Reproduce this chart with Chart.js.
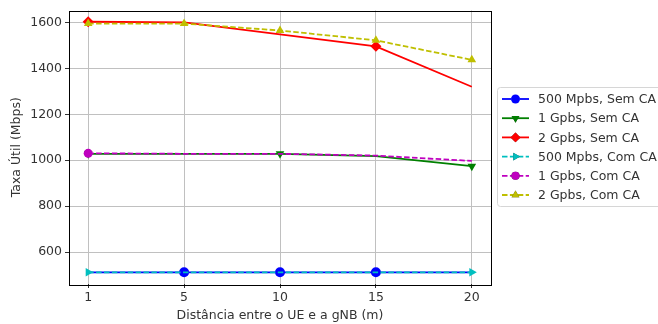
<!DOCTYPE html>
<html>
<head>
<meta charset="utf-8">
<script src="https://cdn.jsdelivr.net/npm/chart.js@4"></script>
<style>
  html, body { margin: 0; padding: 0; background: #fff; }
  #wrap { width: 658px; height: 324px; }
</style>
</head>
<body>
<div id="wrap"><canvas id="c" width="658" height="324"></canvas></div>
<script>
// distances (m)
const distances = ['1', '5', '10', '15', '20'];
const yTicks = [600, 800, 1000, 1200, 1400, 1600];

const labels = ['500 Mpbs, Sem CA', '1 Gpbs, Sem CA', '2 Gpbs, Sem CA',
                '500 Mpbs, Com CA', '1 Gpbs, Com CA', '2 Gpbs, Com CA'];

const sem500 = [512, 512, 512, 512, 512];
const sem1g  = [1028, 1028, 1028, 1018, 974];
const sem2g  = [1603, 1600, 1548, 1496, 1320];
const com500 = [512, 512, 512, 512, 512];
const com1g  = [1030, 1028, 1028, 1020, 997];
const com2g  = [1595, 1595, 1565, 1522, 1437];

// which points carry a marker (matplotlib markevery look)
const marks = [
  [0, 1, 1, 1, 0],
  [1, 0, 1, 0, 1],
  [1, 0, 0, 1, 0],
  [1, 0, 0, 0, 1],
  [1, 0, 0, 0, 0],
  [1, 1, 1, 1, 1],
];

const colors = ['#0000ff', '#008000', '#ff0000', '#00bfbf', '#bf00bf', '#bfbf00'];
const styles = [
  {pointStyle: 'circle', rotation: 0, r: 5, dash: []},
  {pointStyle: 'triangle', rotation: 180, r: 5, dash: []},
  {pointStyle: 'rectRot', rotation: 0, r: 5.5, dash: []},
  {pointStyle: 'triangle', rotation: 90, r: 5, dash: [5.5, 2.4]},
  {pointStyle: 'circle', rotation: 0, r: 4.5, dash: [5.5, 2.4]},
  {pointStyle: 'triangle', rotation: 0, r: 5, dash: [5.5, 2.4]},
];
const series = [sem500, sem1g, sem2g, com500, com1g, com2g];

const FONT = '"DejaVu Sans", sans-serif';
const FS = 12.5;

const datasets = series.map((vals, i) => ({
  label: labels[i],
  data: vals.map((v, j) => ({x: j, y: v})),
  borderColor: colors[i],
  backgroundColor: colors[i],
  borderWidth: 1.8,
  borderDash: styles[i].dash,
  pointStyle: styles[i].pointStyle,
  rotation: styles[i].rotation,
  pointRadius: marks[i].map(m => m ? styles[i].r : 0),
  pointBorderWidth: 0,
  tension: 0,
  order: 5 - i,
}));

const frame = {
  id: 'frame',
  afterDraw(chart) {
    const {ctx, chartArea: a} = chart;
    ctx.save();
    ctx.strokeStyle = '#000';
    ctx.lineWidth = 1;
    ctx.strokeRect(Math.round(a.left) + 0.5, Math.round(a.top) + 0.5,
                   Math.round(a.right - a.left), Math.round(a.bottom - a.top));

    // axis titles
    ctx.fillStyle = '#333';
    ctx.font = FS + 'px ' + FONT;
    ctx.textAlign = 'center';
    ctx.textBaseline = 'middle';
    ctx.fillText('Distância entre o UE e a gNB (m)', (a.left + a.right) / 2, 316);
    ctx.translate(17, (a.top + a.bottom) / 2);
    ctx.rotate(-Math.PI / 2);
    ctx.fillText('Taxa Útil (Mbps)', 0, 0);
    ctx.restore();

    // legend
    ctx.save();
    const bx = 497.5, by = 87.5, bw = 170, bh = 119;
    ctx.strokeStyle = '#d6d6d6';
    ctx.lineWidth = 1;
    ctx.beginPath();
    ctx.roundRect(bx, by, bw, bh, 3);
    ctx.fillStyle = '#fff';
    ctx.fill();
    ctx.stroke();
    ctx.font = FS + 'px ' + FONT;
    ctx.textAlign = 'left';
    ctx.textBaseline = 'middle';
    labels.forEach((lab, i) => {
      const y = 99 + i * 19.2;
      ctx.strokeStyle = colors[i];
      ctx.lineWidth = 1.8;
      ctx.setLineDash(styles[i].dash);
      ctx.beginPath();
      ctx.moveTo(502, y);
      ctx.lineTo(529, y);
      ctx.stroke();
      ctx.setLineDash([]);
      Chart.helpers.drawPoint(ctx, {
        pointStyle: styles[i].pointStyle,
        rotation: styles[i].rotation,
        radius: styles[i].r * 0.9,
        borderWidth: 0,
      }, 515.5, y);
      ctx.fillStyle = colors[i];
      ctx.fill();
      ctx.fillStyle = '#333';
      ctx.fillText(lab, 538, y + 1);
    });
    ctx.restore();
  }
};

new Chart(document.getElementById('c'), {
  type: 'line',
  data: {datasets},
  options: {
    responsive: false,
    animation: false,
    layout: {padding: {left: 0, top: 10, right: 167, bottom: 0}},
    plugins: {legend: {display: false}, tooltip: {enabled: false}},
    scales: {
      x: {
        type: 'linear',
        min: -0.2,
        max: 4.2,
        afterBuildTicks: s => { s.ticks = distances.map((d, i) => ({value: i})); },
        afterFit: s => { s.height = 40; },
        grid: {color: '#c0c0c0', lineWidth: 1, tickColor: '#333', tickLength: 4},
        border: {display: false},
        ticks: {
          color: '#333',
          font: {family: FONT, size: FS},
          padding: 2,
          maxRotation: 0,
          callback: v => distances[v],
        },
      },
      y: {
        min: 461,
        max: 1652,
        afterBuildTicks: s => { s.ticks = yTicks.map(v => ({value: v})); },
        afterFit: s => { s.width = 69; },
        grid: {color: '#c0c0c0', lineWidth: 1, tickColor: '#333', tickLength: 4},
        border: {display: false},
        ticks: {
          color: '#333',
          font: {family: FONT, size: FS},
          padding: 3,
          callback: v => String(v),
        },
      },
    },
  },
  plugins: [frame],
});
</script>
</body>
</html>
